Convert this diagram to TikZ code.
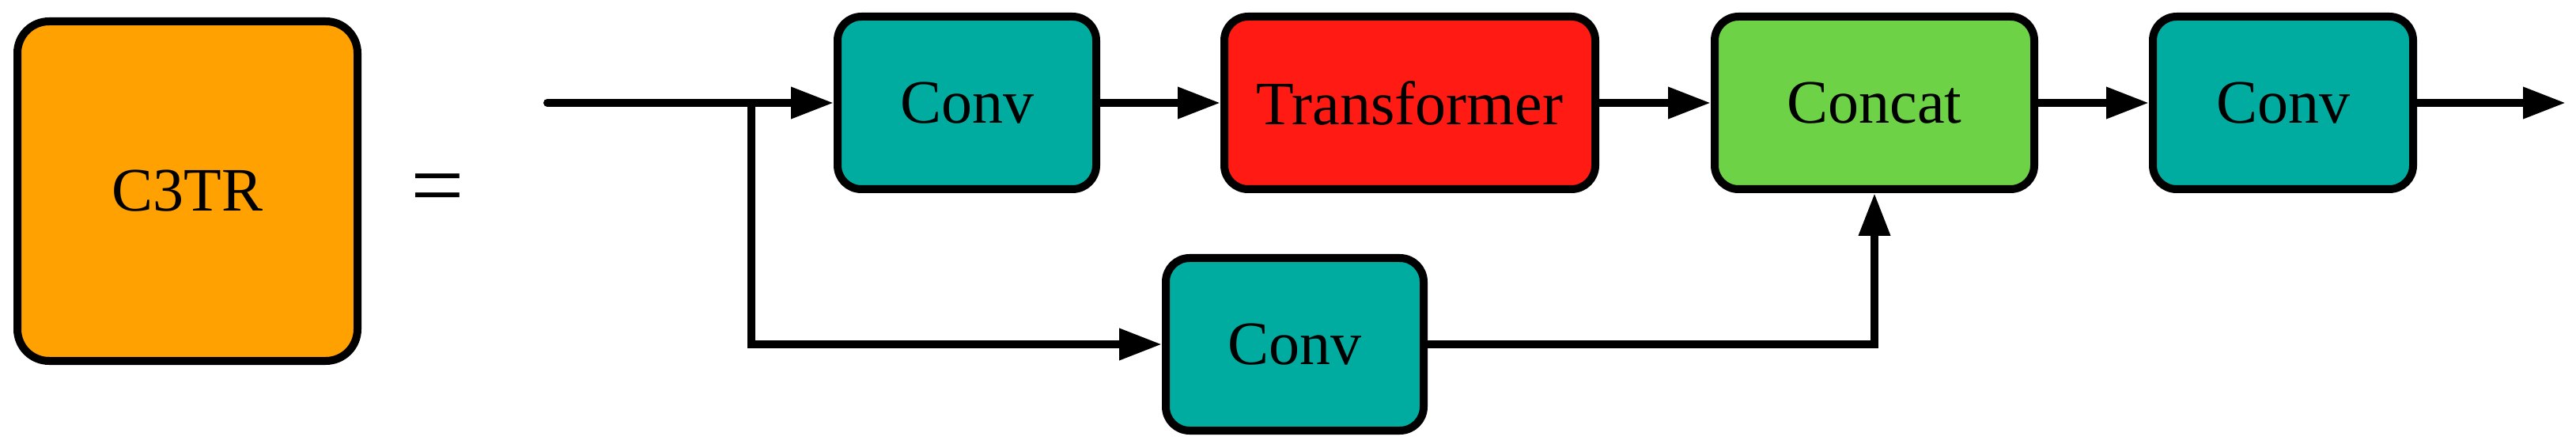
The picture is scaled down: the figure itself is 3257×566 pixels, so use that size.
\documentclass[tikz,border=0pt]{standalone}
\usepackage{fontspec}
\setmainfont{Liberation Serif}
\usetikzlibrary{arrows.meta}
\definecolor{corange}{RGB}{255,161,0}
\definecolor{cteal}{RGB}{0,171,160}
\definecolor{cred}{RGB}{255,26,20}
\definecolor{cgreen}{RGB}{109,210,69}
\begin{document}
\begin{tikzpicture}[x=0.25pt,y=-0.25pt,
  blk/.style={draw=black, line width=2.5pt, rounded corners=7.5pt, inner sep=0pt,
    minimum height=54.5pt, font=\fontsize{19.5}{22}\selectfont},
  conn/.style={line width=2.5pt, -{Triangle[length=13.5pt,width=9.5pt]}}]
\useasboundingbox (0,0) rectangle (3257,566);
\node[blk, fill=corange, minimum width=107.5pt, minimum height=107.25pt, rounded corners=10pt] (c3tr) at (237,241.5) {C3TR};
\node[font=\fontsize{30}{32}\selectfont, inner sep=0pt] (eq) at (553.5,247) {=};
\node[blk, fill=cteal, minimum width=81.75pt] (conv1) at (1222.5,130) {Conv};
\node[blk, fill=cred, minimum width=117.25pt] (trans) at (1782.5,130) {Transformer};
\node[blk, fill=cgreen, minimum width=101pt] (concat) at (2370,130) {Concat};
\node[blk, fill=cteal, minimum width=82.25pt] (conv3) at (2886.5,130) {Conv};
\node[blk, fill=cteal, minimum width=81.5pt] (conv2) at (1637,435) {Conv};
\coordinate (in) at (692,130);
\coordinate (split) at (950,130);
\coordinate (out) at (3244,130);
\draw[conn, line cap=round] (in) -- (conv1.west);
\draw[conn] (split) |- (conv2.west);
\draw[conn] (conv1) -- (trans);
\draw[conn] (trans) -- (concat);
\draw[conn] (concat) -- (conv3);
\draw[conn] (conv3) -- (out);
\draw[conn] (conv2.east) -| (concat.south);
\end{tikzpicture}
\end{document}
